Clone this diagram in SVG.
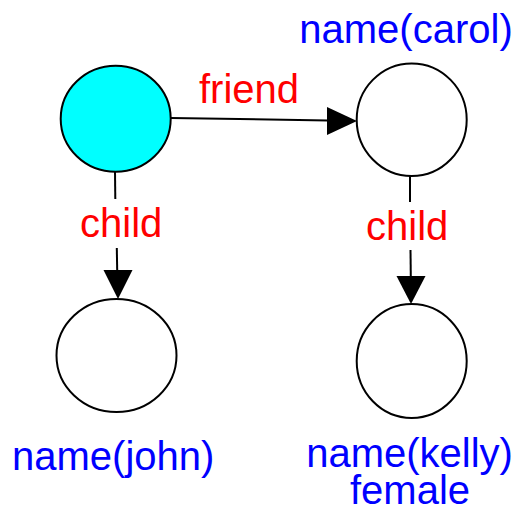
<svg xmlns="http://www.w3.org/2000/svg" width="525" height="515" viewBox="0 0 525 515">
  <style>
    .node { fill: #ffffff; stroke: #000000; stroke-width: 2; }
    .root { fill: #00ffff; }
    .edge { stroke: #000000; stroke-width: 2; fill: none; }
    .head { fill: #000000; stroke: none; }
    .elabel { font-family: "Liberation Sans", Arial, sans-serif; font-size: 40px; fill: #ff0000; }
    .nlabel { font-family: "Liberation Sans", Arial, sans-serif; font-size: 40px; fill: #0000ff; }
  </style>
  <defs>
    <clipPath id="leftEdge">
      <rect x="13" y="0" width="512" height="515"/>
    </clipPath>
  </defs>
  <rect width="525" height="515" fill="#ffffff"/>

  <g id="connectors">
    <!-- friend -->
    <line class="edge" x1="170.7" y1="118" x2="328" y2="120.5"/>
    <polygon class="head" points="357,121 327,107 327,135"/>
    <text class="elabel" x="199" y="103">friend</text>
    <!-- child (left) -->
    <line class="edge" x1="115" y1="171.7" x2="115.3" y2="199"/>
    <line class="edge" x1="116.8" y1="248" x2="117.2" y2="271"/>
    <polygon class="head" points="118,299 103.5,270 132.5,270"/>
    <text class="elabel" x="80" y="237">child</text>
    <!-- child (right) -->
    <line class="edge" x1="410" y1="176" x2="410" y2="202"/>
    <line class="edge" x1="410.5" y1="250" x2="410.8" y2="277"/>
    <polygon class="head" points="411,304 396.5,276 425.5,276"/>
    <text class="elabel" x="366" y="240">child</text>
  </g>

  <g id="node-root">
    <ellipse class="node root" cx="115.7" cy="118.7" rx="55" ry="53"/>
  </g>

  <g id="node-carol">
    <ellipse class="node" cx="411.7" cy="119.7" rx="55" ry="56.3"/>
    <text class="nlabel" x="406" y="43" text-anchor="middle">name(carol)</text>
  </g>

  <g id="node-john">
    <ellipse class="node" cx="116.5" cy="355.5" rx="60" ry="56.5"/>
    <text class="nlabel" x="12" y="470" clip-path="url(#leftEdge)">name(john)</text>
  </g>

  <g id="node-kelly">
    <ellipse class="node" cx="411.7" cy="361" rx="55" ry="57"/>
    <text class="nlabel" x="409.5" y="467" text-anchor="middle">name(kelly)</text>
    <text class="nlabel" x="410" y="504" text-anchor="middle">female</text>
  </g>
</svg>
